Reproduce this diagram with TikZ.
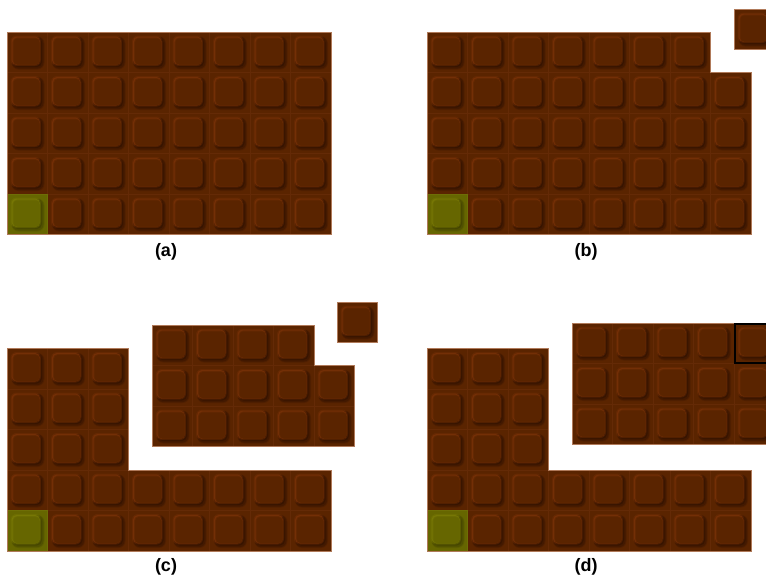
\documentclass[tikz,border=0pt]{standalone}
\usepackage{fontspec}
\setmainfont{Liberation Sans}

\definecolor{choc}{RGB}{90,36,0}
\definecolor{chochi}{RGB}{122,50,8}
\definecolor{chocsh}{RGB}{52,19,0}
\definecolor{chocln}{RGB}{100,42,6}
\definecolor{moss}{RGB}{102,102,0}
\definecolor{mosshi}{RGB}{124,124,6}
\definecolor{mosssh}{RGB}{68,68,0}
\definecolor{mossln}{RGB}{110,110,6}
\definecolor{chocrim}{RGB}{176,122,90}

\tikzset{
  rim/.style={draw=chocrim, line width=0.8pt},
  slot/.style={draw=black, line width=2.4pt},
  tag/.style={font=\bfseries\fontsize{18}{21}\selectfont, text=black}
}

% one square of the bar: top-left x, top-left y, colour set
\newcommand{\chunk}[3]{%
  \fill[#3, draw=#3ln, line width=0.4pt] (#1,#2) rectangle ++(40.5,40.5);
  \fill[#3sh, opacity=0.25, rounded corners=7pt] (#1+4.5,#2+4.5) rectangle ++(33,33);
  \fill[#3sh, opacity=0.45, rounded corners=6pt] (#1+5,#2+5) rectangle ++(31.5,31.5);
  \fill[#3sh, opacity=0.8, rounded corners=5pt] (#1+5.5,#2+5.5) rectangle ++(29.5,29.5);
  \fill[#3hi, opacity=0.35, rounded corners=6pt] (#1+3.5,#2+3.5) rectangle ++(30.5,30.5);
  \fill[#3hi, opacity=0.8, rounded corners=5pt] (#1+4.5,#2+4.5) rectangle ++(28.5,28.5);
  \fill[#3, opacity=0.6, rounded corners=5pt] (#1+5.5,#2+5.5) rectangle ++(27.5,27.5);
  \fill[#3, rounded corners=4pt] (#1+6.5,#2+6.5) rectangle ++(26,26);
}

\begin{document}
\begin{tikzpicture}[x=1pt,y=-1pt]
\useasboundingbox (0,0) rectangle (766,579);
\clip (0,0) rectangle (766,579);

% (a) whole bar
\foreach \i in {0,...,7}
  \foreach \j in {0,...,4}
    {\chunk{7+\i*40.5}{32+\j*40.5}{choc}}
\chunk{7}{194}{moss}
\draw[rim] (7,32) rectangle (331,234.5);
\node[tag] (laba) at (166,252) {(a)};

% (b) corner square broken off
\foreach \i in {0,...,6}
  {\chunk{427+\i*40.5}{32}{choc}}
\foreach \i in {0,...,7}
  \foreach \j in {1,...,4}
    {\chunk{427+\i*40.5}{32+\j*40.5}{choc}}
\chunk{427}{194}{moss}
\draw[rim] (427,32) -- (710.5,32) -- (710.5,72.5) -- (751,72.5) -- (751,234.5) -- (427,234.5) -- cycle;
\chunk{734}{9}{choc}
\draw[rim] (734,9) rectangle ++(40.5,40.5);
\node[tag] (labb) at (586,252) {(b)};

% (c) bar split in two
\foreach \i in {0,...,2}
  \foreach \j in {0,...,2}
    {\chunk{7+\i*40.5}{348.5+\j*40.5}{choc}}
\foreach \i in {0,...,7}
  \foreach \j in {3,4}
    {\chunk{7+\i*40.5}{348.5+\j*40.5}{choc}}
\chunk{7}{510.5}{moss}
\draw[rim] (7,348.5) -- (128.5,348.5) -- (128.5,470) -- (331,470) -- (331,551) -- (7,551) -- cycle;
\foreach \i in {0,...,3}
  {\chunk{152+\i*40.5}{325}{choc}}
\foreach \i in {0,...,4}
  \foreach \j in {1,2}
    {\chunk{152+\i*40.5}{325+\j*40.5}{choc}}
\draw[rim] (152,325) -- (314,325) -- (314,365.5) -- (354.5,365.5) -- (354.5,446.5) -- (152,446.5) -- cycle;
\chunk{337}{302}{choc}
\draw[rim] (337,302) rectangle ++(40.5,40.5);
\node[tag] (labc) at (166,567) {(c)};

% (d) square put back
\foreach \i in {0,...,2}
  \foreach \j in {0,...,2}
    {\chunk{427+\i*40.5}{348.5+\j*40.5}{choc}}
\foreach \i in {0,...,7}
  \foreach \j in {3,4}
    {\chunk{427+\i*40.5}{348.5+\j*40.5}{choc}}
\chunk{427}{510.5}{moss}
\draw[rim] (427,348.5) -- (548.5,348.5) -- (548.5,470) -- (751,470) -- (751,551) -- (427,551) -- cycle;
\foreach \i in {0,...,4}
  \foreach \j in {0,...,2}
    {\chunk{572+\i*40.5}{323+\j*40.5}{choc}}
\draw[rim] (572,323) rectangle ++(202.5,121.5);
\draw[slot] (735,324.2) rectangle ++(40.5,38.5);
\node[tag] (labd) at (586,567) {(d)};
\end{tikzpicture}
\end{document}
